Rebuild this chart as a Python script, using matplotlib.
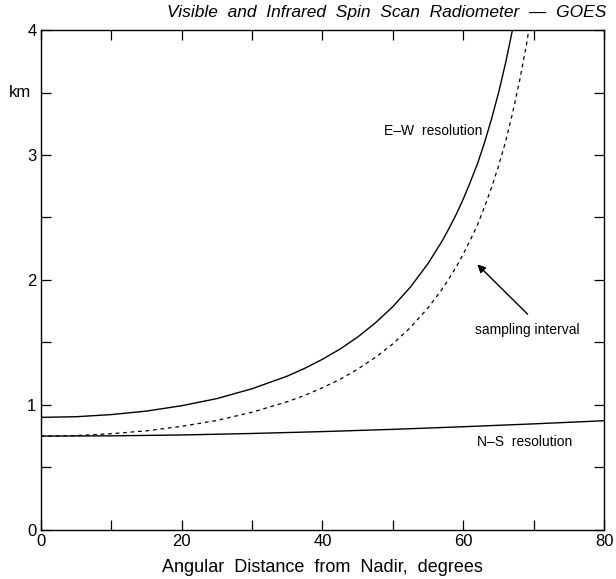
import matplotlib.pyplot as plt

plt.rcParams['font.family'] = ['Liberation Sans', 'DejaVu Sans']

# angular distance from nadir (degrees) and values in km
ew_angle = [0, 5, 10, 15, 20, 25, 30, 35, 37.5, 40, 42.5, 45, 47.5, 50, 52.5, 55, 57, 58, 59,
            60, 61, 62, 63, 64, 65, 66, 67, 67.5]
ew_km = [0.90, 0.905, 0.922, 0.95, 0.993, 1.05, 1.129, 1.23, 1.293, 1.365, 1.447, 1.543, 1.656,
         1.787, 1.944, 2.133, 2.313, 2.417, 2.527, 2.65, 2.786, 2.93, 3.10, 3.29, 3.50, 3.74,
         4.01, 4.17]

si_angle = [0, 5, 10, 15, 20, 25, 30, 35, 37.5, 40, 42.5, 45, 47.5, 50, 52.5, 55, 57, 58, 59,
            60, 61, 62, 63, 64, 65, 66, 67, 68, 69, 70]
si_km = [0.75, 0.754, 0.769, 0.792, 0.828, 0.875, 0.941, 1.025, 1.077, 1.137, 1.205, 1.286,
         1.380, 1.489, 1.620, 1.778, 1.928, 2.014, 2.106, 2.209, 2.322, 2.44, 2.585, 2.74,
         2.915, 3.11, 3.34, 3.60, 3.90, 4.26]

ns_angle = [0, 10, 20, 30, 40, 50, 60, 70, 80]
ns_km = [0.75, 0.752, 0.759, 0.771, 0.786, 0.804, 0.825, 0.848, 0.873]

x_ticks = [0, 10, 20, 30, 40, 50, 60, 70, 80]
y_ticks = [0, 0.5, 1, 1.5, 2, 2.5, 3, 3.5, 4]

fig = plt.figure(figsize=(6.16, 5.79), dpi=100)
ax = fig.add_axes([0.066, 0.085, 0.915, 0.863])

ax.plot(ew_angle, ew_km, color='black', lw=1.0)
ax.plot(si_angle, si_km, color='black', lw=0.9, linestyle=(0, (3, 3)))
ax.plot(ns_angle, ns_km, color='black', lw=1.0)

ax.set_xlim(0, 80)
ax.set_ylim(0, 4)
ax.set_xticks(x_ticks)
ax.set_xticklabels([str(t) if t % 20 == 0 else '' for t in x_ticks], fontsize=12)
ax.set_yticks(y_ticks)
ax.set_yticklabels([str(int(t)) if t == int(t) else '' for t in y_ticks], fontsize=12)
ax.tick_params(direction='in', length=7, width=0.9, top=True, right=True, pad=3)
for s in ax.spines.values():
    s.set_linewidth(1.0)

ax.text(-1.4, 3.5, 'km', fontsize=12, ha='right', va='center')
ax.set_xlabel('Angular  Distance  from  Nadir,  degrees', fontsize=13, labelpad=7)
fig.text(0.985, 0.978, 'Visible  and  Infrared  Spin  Scan  Radiometer  \u2014  GOES',
         fontsize=12.5, style='italic', ha='right', va='center')

ax.text(48.7, 3.19, 'E\u2013W  resolution', fontsize=10, va='center')
ax.text(61.7, 1.60, 'sampling interval', fontsize=10, va='center')
ax.text(62.0, 0.70, 'N\u2013S  resolution', fontsize=10, va='center')
ax.annotate('', xy=(61.7, 2.14), xytext=(69.4, 1.71),
            arrowprops=dict(arrowstyle='-|>', color='black', lw=1.0, mutation_scale=12))

plt.savefig('out.png', dpi=100)
